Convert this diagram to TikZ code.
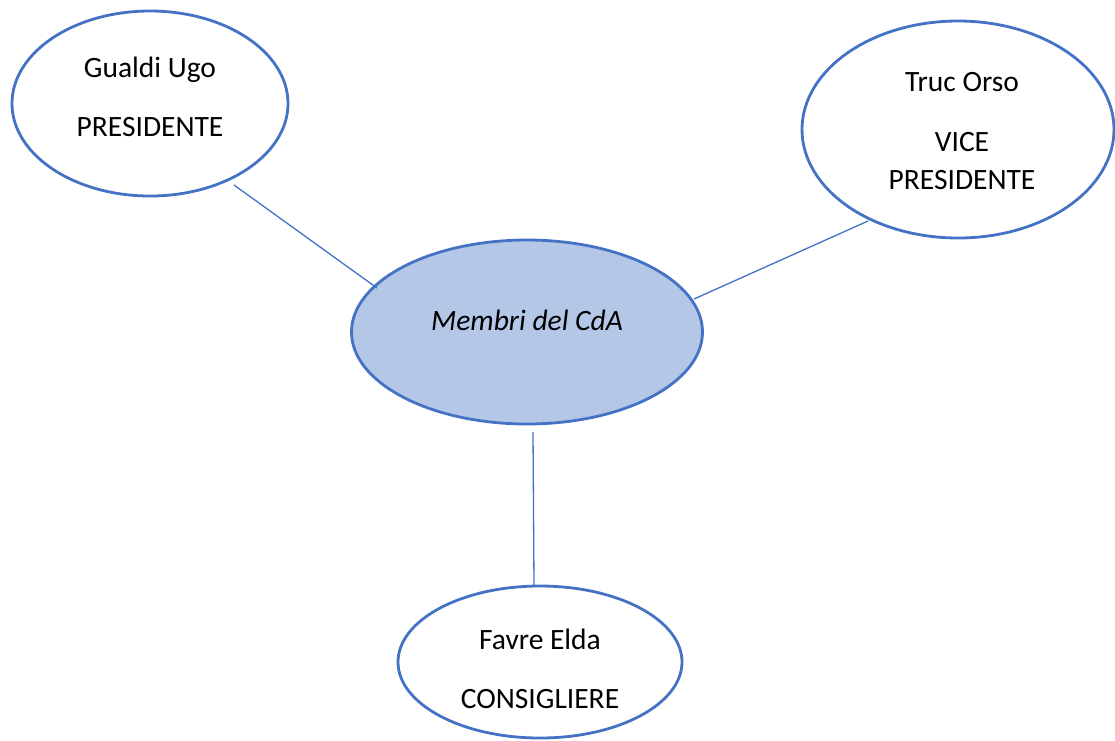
\documentclass[tikz,border=0pt]{standalone}
\usepackage{fontspec}
\setmainfont{Carlito}
\usetikzlibrary{shapes.geometric}
\definecolor{edgeblue}{HTML}{4472C4}
\definecolor{fillblue}{HTML}{B4C7E7}
\tikzset{
  member/.style={ellipse, draw=edgeblue, line width=2.8pt, fill=white, inner sep=0pt, outer sep=0pt},
  hub/.style={member, fill=fillblue},
  lbl/.style={anchor=base, inner sep=0pt, font=\fontsize{29.5}{35}\selectfont, text=black},
  link/.style={draw=edgeblue, line width=1.3pt}
}
\begin{document}
\begin{tikzpicture}[x=1pt,y=-1pt]
\useasboundingbox (0,0) rectangle (1115,740);
\fill[white] (0,0) rectangle (1115,740);
% ellipses
\node[member, minimum width=276pt, minimum height=185pt] (g) at (150,103.5) {};
\node[member, minimum width=312pt, minimum height=217pt] (t) at (958,129.5) {};
\node[hub, minimum width=351pt, minimum height=184pt] (c) at (527,332) {};
\node[member, minimum width=284pt, minimum height=152pt] (f) at (540,662) {};
% texts
\node[lbl] (g1) at (150,77) {Gualdi Ugo};
\node[lbl] (g2) at (150,136) {PRESIDENTE};
\node[lbl] (t1) at (962,91) {Truc Orso};
\node[lbl] (t2) at (962,151) {VICE};
\node[lbl] (t3) at (962,189) {PRESIDENTE};
\node[lbl, font=\fontsize{29.5}{35}\selectfont\itshape] (c1) at (527,330) {Membri del CdA};
\node[lbl] (f1) at (540,649) {Favre Elda};
\node[lbl] (f2) at (540,708) {CONSIGLIERE};
% connector end points
\coordinate (gs) at (234,185);
\coordinate (ge) at (377,288);
\coordinate (ts) at (868,221);
\coordinate (te) at (694,299);
\coordinate (cs) at (533,432);
\coordinate (fe) at (534,586);
\draw[link] (gs) -- (ge);
\draw[link] (ts) -- (te);
\draw[link] (cs) -- (fe);
\end{tikzpicture}
\end{document}
